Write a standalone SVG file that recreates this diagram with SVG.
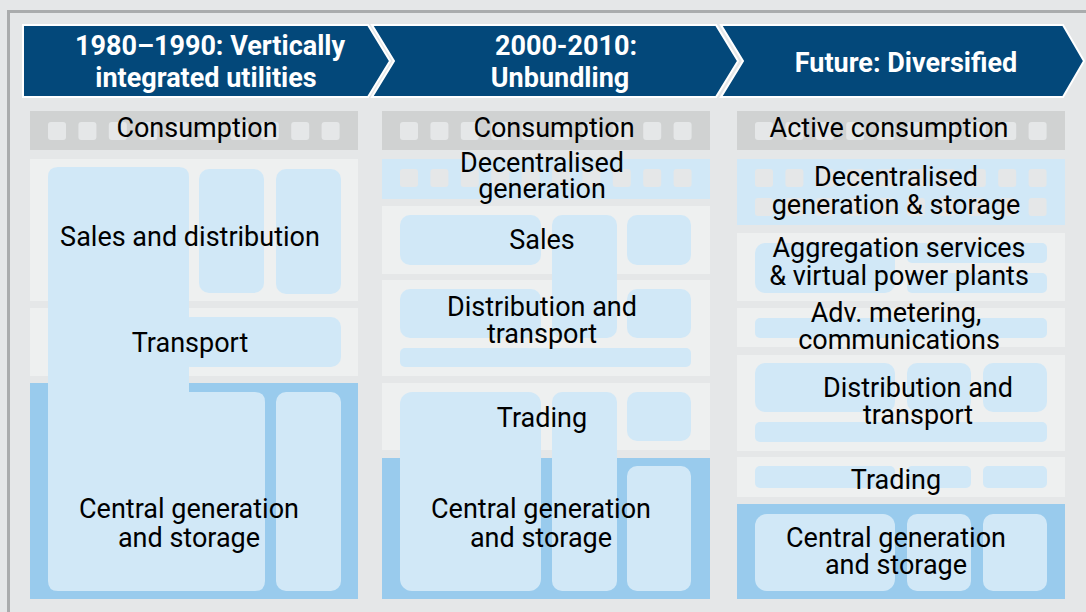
<svg xmlns="http://www.w3.org/2000/svg" width="1086" height="612" viewBox="0 0 1086 612">
  <defs>
    <style>
      .bg { fill: #e5e7e8; }
      .frame { fill: none; stroke: #aaacad; stroke-width: 3; }
      .chev { fill: #03487a; stroke: #ffffff; stroke-width: 2; }
      .head { font-family: Roboto, "Liberation Sans", sans-serif; font-weight: bold; font-size: 27px; fill: #ffffff; text-anchor: middle; }
      .lbl { font-family: Roboto, "Liberation Sans", sans-serif; font-size: 27px; fill: #000000; text-anchor: middle; }
      .cons { fill: #d0d2d2; }
      .sq { fill: #e5e7e8; }
      .row { fill: #eef0f0; }
      .pale { fill: #d1e8f7; }
      .mid { fill: #99cbed; }
    </style>
    <rect id="sq" width="18" height="18" rx="3"/>
    <g id="squares">
      <use href="#sq" x="0"/>
      <use href="#sq" x="30.4"/>
      <use href="#sq" x="60.8"/>
      <use href="#sq" x="91.2"/>
      <use href="#sq" x="121.6"/>
      <use href="#sq" x="152"/>
      <use href="#sq" x="182.4"/>
      <use href="#sq" x="212.8"/>
      <use href="#sq" x="243.2"/>
      <use href="#sq" x="273.6"/>
    </g>
  </defs>

  <rect class="bg" x="0" y="0" width="1086" height="612"/>
  <path class="frame" d="M8.5,612 L8.5,11.5 L1086,11.5"/>

  <!-- Era banners -->
  <g id="banners">
    <path class="chev" d="M23,25 L368,25 L390,61 L368,97 L23,97 Z"/>
    <path class="chev" d="M372,25 L716,25 L738,61 L716,97 L372,97 L394,61 Z"/>
    <path class="chev" d="M721,25 L1063,25 L1084,61 L1063,97 L721,97 L743,61 Z"/>
    <text class="head" x="210" y="55">1980–1990: Vertically</text>
    <text class="head" x="206" y="87">integrated utilities</text>
    <text class="head" x="566" y="55">2000-2010:</text>
    <text class="head" x="560" y="87">Unbundling</text>
    <text class="head" x="906" y="72">Future: Diversified</text>
  </g>

  <!-- Era 1: vertically integrated -->
  <g id="era1">
    <g id="era1-consumption">
      <rect class="cons" x="30" y="111" width="328" height="39"/>
      <use href="#squares" class="sq" x="48" y="122"/>
      <text class="lbl" x="197" y="137">Consumption</text>
    </g>
    <g id="era1-rows">
      <rect class="row" x="30" y="159" width="328" height="142"/>
      <rect class="row" x="30" y="308" width="328" height="68"/>
      <rect class="mid" x="30" y="383" width="328" height="216"/>
      <rect class="pale" x="199" y="169" width="65" height="124" rx="10"/>
      <rect class="pale" x="276" y="169" width="65" height="125" rx="10"/>
      <rect class="pale" x="180" y="317" width="161" height="50" rx="10"/>
      <rect class="pale" x="276" y="392" width="65" height="199" rx="10"/>
      <path class="pale" d="M48,177 Q48,167 58,167 L179,167 Q189,167 189,177 L189,392 L255,392 Q265,392 265,402 L265,581 Q265,591 255,591 L58,591 Q48,591 48,581 Z"/>
    </g>
    <g id="era1-sales"><text class="lbl" x="190" y="246">Sales and distribution</text></g>
    <g id="era1-transport"><text class="lbl" x="190" y="352">Transport</text></g>
    <g id="era1-generation">
      <text class="lbl" x="189" y="518">Central generation</text>
      <text class="lbl" x="189" y="547">and storage</text>
    </g>
  </g>

  <!-- Era 2: unbundling -->
  <g id="era2">
    <g id="era2-consumption">
      <rect class="cons" x="382" y="111" width="328" height="39"/>
      <use href="#squares" class="sq" x="400" y="122"/>
      <text class="lbl" x="554" y="137">Consumption</text>
    </g>
    <g id="era2-decentral">
      <rect class="pale" x="382" y="159" width="328" height="40"/>
      <use href="#squares" class="sq" x="400" y="169"/>
      <text class="lbl" x="542" y="172">Decentralised</text>
      <text class="lbl" x="542" y="198">generation</text>
    </g>
    <g id="era2-rows">
      <rect class="row" x="382" y="206" width="328" height="68"/>
      <rect class="row" x="382" y="280" width="328" height="96"/>
      <rect class="row" x="382" y="383" width="328" height="67"/>
      <rect class="mid" x="382" y="458" width="328" height="141"/>
      <rect class="pale" x="400" y="215" width="141" height="50" rx="10"/>
      <rect class="pale" x="627" y="215" width="64" height="50" rx="10"/>
      <rect class="pale" x="552" y="215" width="65" height="123" rx="10"/>
      <rect class="pale" x="400" y="289" width="141" height="49" rx="10"/>
      <rect class="pale" x="627" y="289" width="64" height="49" rx="10"/>
      <rect class="pale" x="400" y="348" width="291" height="19" rx="5"/>
      <rect class="pale" x="400" y="392" width="141" height="199" rx="12"/>
      <rect class="pale" x="552" y="392" width="65" height="199" rx="10"/>
      <rect class="pale" x="627" y="392" width="64" height="49" rx="10"/>
      <rect class="pale" x="627" y="466" width="64" height="125" rx="10"/>
    </g>
    <g id="era2-sales"><text class="lbl" x="542" y="249">Sales</text></g>
    <g id="era2-distribution">
      <text class="lbl" x="542" y="316">Distribution and</text>
      <text class="lbl" x="542" y="343">transport</text>
    </g>
    <g id="era2-trading"><text class="lbl" x="542" y="427">Trading</text></g>
    <g id="era2-generation">
      <text class="lbl" x="541" y="518">Central generation</text>
      <text class="lbl" x="541" y="547">and storage</text>
    </g>
  </g>

  <!-- Era 3: diversified -->
  <g id="era3">
    <g id="era3-consumption">
      <rect class="cons" x="737" y="111" width="328" height="39"/>
      <use href="#squares" class="sq" x="755" y="122"/>
      <text class="lbl" x="889" y="137">Active consumption</text>
    </g>
    <g id="era3-decentral">
      <rect class="pale" x="737" y="159" width="328" height="66"/>
      <use href="#squares" class="sq" x="755" y="169"/>
      <use href="#squares" class="sq" x="755" y="198"/>
      <text class="lbl" x="896" y="186">Decentralised</text>
      <text class="lbl" x="896" y="214">generation &amp; storage</text>
    </g>
    <g id="era3-rows">
      <rect class="row" x="737" y="233" width="328" height="68"/>
      <rect class="row" x="737" y="308" width="328" height="39"/>
      <rect class="row" x="737" y="355" width="328" height="96"/>
      <rect class="row" x="737" y="457" width="328" height="40"/>
      <rect class="mid" x="737" y="504" width="328" height="95"/>
      <rect class="pale" x="755" y="243" width="140" height="50" rx="10"/>
      <rect class="pale" x="907" y="243" width="140" height="20" rx="5"/>
      <rect class="pale" x="907" y="273" width="140" height="20" rx="5"/>
      <rect class="pale" x="755" y="318" width="292" height="20" rx="5"/>
      <rect class="pale" x="755" y="363" width="140" height="49" rx="10"/>
      <rect class="pale" x="907" y="363" width="64" height="49" rx="10"/>
      <rect class="pale" x="983" y="363" width="64" height="49" rx="10"/>
      <rect class="pale" x="755" y="422" width="292" height="20" rx="5"/>
      <rect class="pale" x="755" y="466" width="140" height="22" rx="5"/>
      <rect class="pale" x="907" y="466" width="64" height="22" rx="5"/>
      <rect class="pale" x="983" y="466" width="64" height="22" rx="5"/>
      <rect class="pale" x="755" y="514" width="140" height="77" rx="12"/>
      <rect class="pale" x="907" y="514" width="64" height="77" rx="10"/>
      <rect class="pale" x="983" y="514" width="64" height="77" rx="10"/>
    </g>
    <g id="era3-aggregation">
      <text class="lbl" x="899" y="257">Aggregation services</text>
      <text class="lbl" x="899" y="285">&amp; virtual power plants</text>
    </g>
    <g id="era3-metering">
      <text class="lbl" x="896" y="322">Adv. metering,</text>
      <text class="lbl" x="899" y="349">communications</text>
    </g>
    <g id="era3-distribution">
      <text class="lbl" x="918" y="397">Distribution and</text>
      <text class="lbl" x="918" y="424">transport</text>
    </g>
    <g id="era3-trading"><text class="lbl" x="896" y="489">Trading</text></g>
    <g id="era3-generation">
      <text class="lbl" x="896" y="547">Central generation</text>
      <text class="lbl" x="896" y="574">and storage</text>
    </g>
  </g>
</svg>
